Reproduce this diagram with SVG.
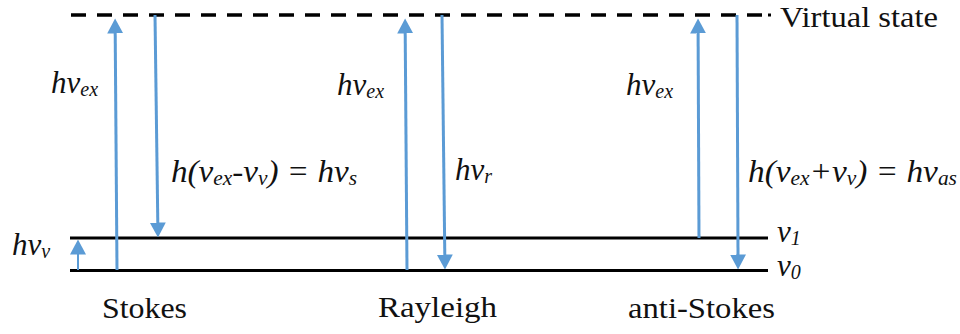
<svg xmlns="http://www.w3.org/2000/svg" width="960" height="334" viewBox="0 0 960 334">
<style>
.lvl{stroke:#000;stroke-width:3;fill:none}
.dash{stroke:#000;stroke-width:3.5;stroke-dasharray:15 11;fill:none}
.arr{stroke:#5B9BD5;stroke-width:3;fill:none;marker-end:url(#ah)}
.it{font-style:italic;font-size:31px;fill:#111}
.rm{font-size:30px;fill:#111}
.sub{font-size:20px}
</style>
<defs>
<marker id="ah" viewBox="0 0 15 16" refX="0.5" refY="8" markerWidth="15" markerHeight="16" markerUnits="userSpaceOnUse" orient="auto">
<path d="M0,0 L15,8 L0,16 z" fill="#5B9BD5"/>
</marker>
</defs>
<g id="levels">
<line class="dash" x1="71" y1="15" x2="763" y2="15"/>
<line x1="768" y1="15" x2="771" y2="15" stroke="#000" stroke-width="3"/>
<line class="lvl" x1="70" y1="238" x2="768" y2="238"/>
<line class="lvl" x1="70" y1="270.5" x2="768" y2="270.5"/>
</g>
<g id="connectors">
<line class="arr" x1="117" y1="270" x2="115.2" y2="33"/>
<line class="arr" x1="155" y1="15" x2="157.8" y2="223"/>
<line class="arr" x1="78" y1="270" x2="78" y2="254" style="stroke-width:2"/>
<line class="arr" x1="407" y1="270" x2="405.2" y2="33"/>
<line class="arr" x1="442" y1="15" x2="444.8" y2="255"/>
<line class="arr" x1="699" y1="238" x2="698.1" y2="33"/>
<line class="arr" x1="737" y1="15" x2="738" y2="255"/>
</g>
<g id="label-virtual"><text font-family="Liberation Serif" class="rm" x="780" y="27" textLength="158" lengthAdjust="spacingAndGlyphs">Virtual state</text></g>
<g id="label-v1"><text font-family="Liberation Serif" class="it" x="777" y="242">v<tspan class="sub" dy="3">1</tspan></text></g>
<g id="label-v0"><text font-family="Liberation Serif" class="it" x="777" y="276">v<tspan class="sub" dy="3">0</tspan></text></g>
<g id="label-hvv"><text font-family="Liberation Serif" class="it" x="12" y="255">hv<tspan class="sub" dy="3">v</tspan></text></g>
<g id="stokes">
<text font-family="Liberation Serif" class="it" x="51" y="93">hv<tspan class="sub" dy="3">ex</tspan></text>
<text font-family="Liberation Serif" class="it" x="171" y="182" textLength="186" lengthAdjust="spacingAndGlyphs">h(v<tspan class="sub" dy="3">ex</tspan><tspan dy="-3">-v</tspan><tspan class="sub" dy="3">v</tspan><tspan dy="-3">) = hv</tspan><tspan class="sub" dy="3">s</tspan></text>
<text font-family="Liberation Serif" class="rm" x="102" y="318" textLength="85" lengthAdjust="spacingAndGlyphs">Stokes</text>
</g>
<g id="rayleigh">
<text font-family="Liberation Serif" class="it" x="337" y="95">hv<tspan class="sub" dy="3">ex</tspan></text>
<text font-family="Liberation Serif" class="it" x="455" y="180">hv<tspan class="sub" dy="3">r</tspan></text>
<text font-family="Liberation Serif" class="rm" x="378" y="317" textLength="119" lengthAdjust="spacingAndGlyphs">Rayleigh</text>
</g>
<g id="antistokes">
<text font-family="Liberation Serif" class="it" x="626" y="95">hv<tspan class="sub" dy="3">ex</tspan></text>
<text font-family="Liberation Serif" class="it" x="748" y="182" textLength="209" lengthAdjust="spacingAndGlyphs">h(v<tspan class="sub" dy="3">ex</tspan><tspan dy="-3">+v</tspan><tspan class="sub" dy="3">v</tspan><tspan dy="-3">) = hv</tspan><tspan class="sub" dy="3">as</tspan></text>
<text font-family="Liberation Serif" class="rm" x="628" y="318" textLength="147" lengthAdjust="spacingAndGlyphs">anti-Stokes</text>
</g>
</svg>
